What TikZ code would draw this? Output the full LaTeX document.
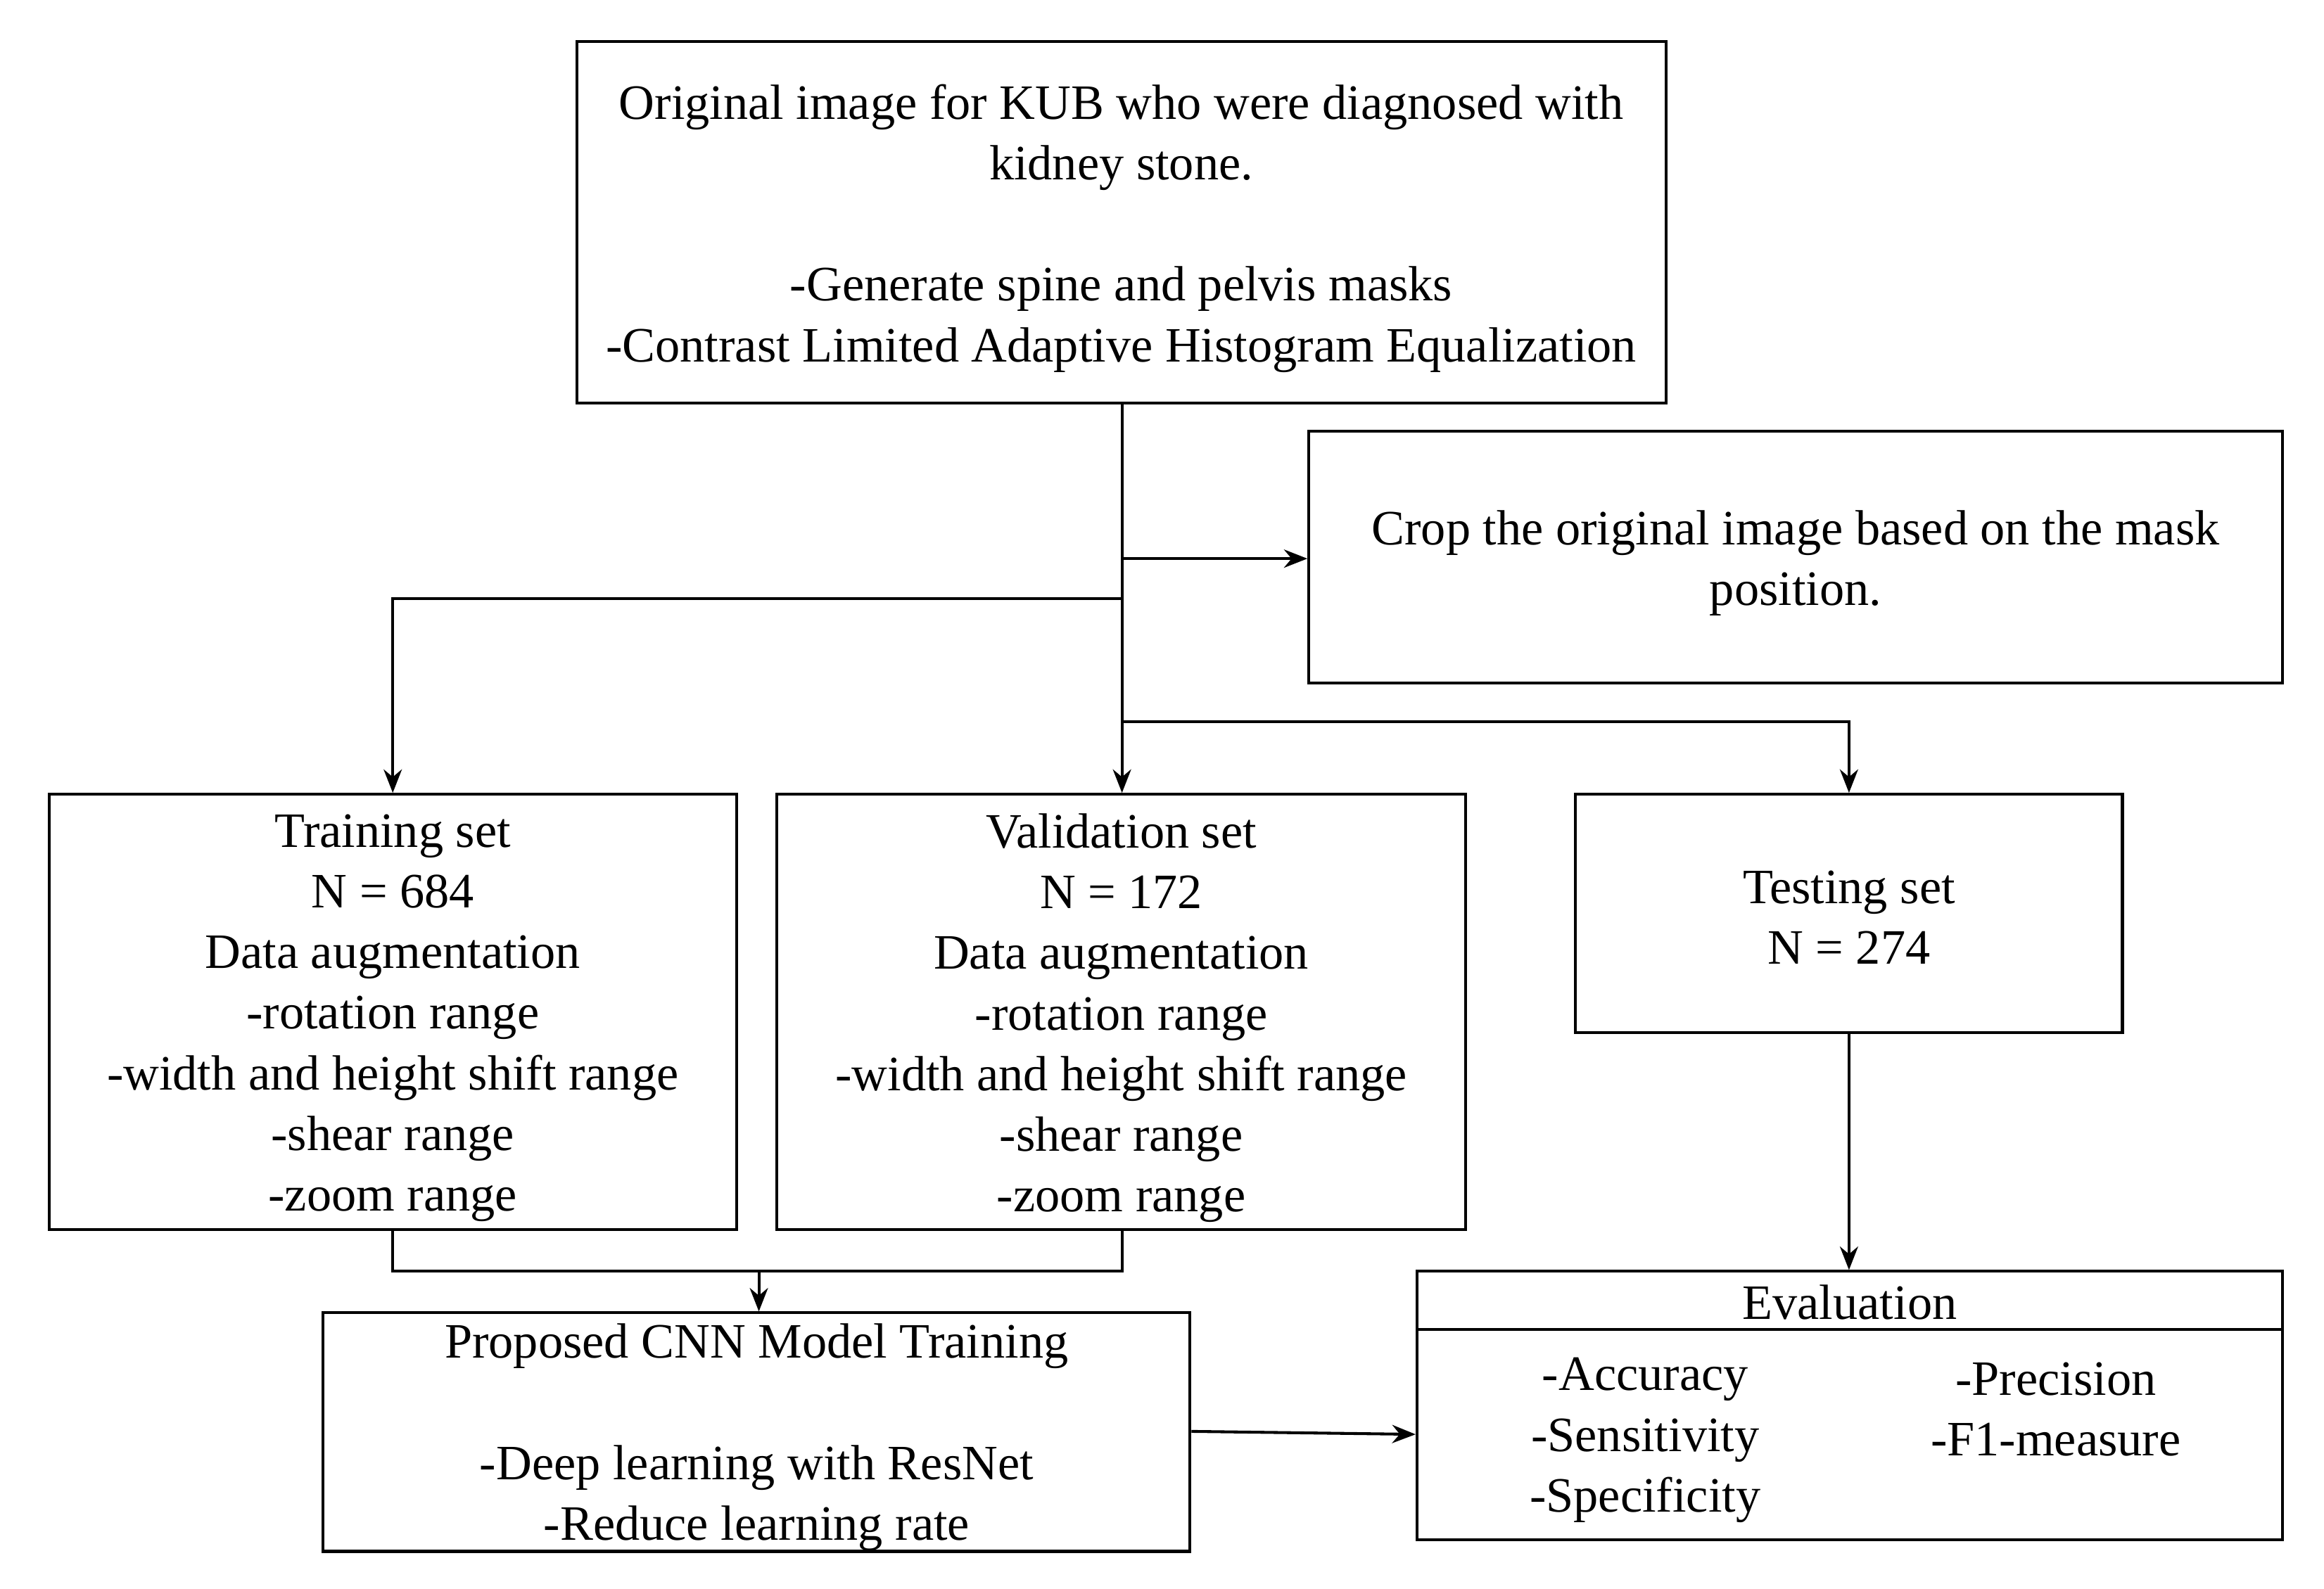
\documentclass[tikz,border=0pt]{standalone}
\usepackage{fontspec}
\setmainfont{Liberation Serif}
\usetikzlibrary{arrows.meta}
\begin{document}
\begin{tikzpicture}[x=0.02cm,y=-0.02cm,
  bx/.style={draw,line width=1.1pt,inner sep=0pt,align=center,font=\fontsize{19}{23.3}\selectfont},
  bo/.style={draw,line width=1.1pt,inner sep=0pt},
  tx/.style={inner sep=0pt,align=center,font=\fontsize{19}{23.3}\selectfont},
  ln/.style={line width=1.1pt},
  ar/.style={line width=1.1pt,-{Stealth[length=9pt,width=7pt]}}]
\useasboundingbox (0,0) rectangle (1568,1072);
\node[bo,minimum width=14.7cm,minimum height=4.88cm] (top) at (756.5,150) {};
\node[tx] (topt) at (756.5,154) {Original image for KUB who were diagnosed with\\kidney stone.\\[23.3pt]-Generate spine and pelvis masks\\-Contrast Limited Adaptive Histogram Equalization};
\node[bo,minimum width=13.14cm,minimum height=3.4cm] (crop) at (1211.5,376) {};
\node[tx] (cropt) at (1211.5,380) {Crop the original image based on the mask\\position.};
\node[bo,minimum width=9.28cm,minimum height=5.88cm] (train) at (265,683) {};
\node[tx] (traint) at (265,687) {Training set\\N = 684\\Data augmentation\\-rotation range\\-width and height shift range\\-shear range\\-zoom range};
\node[bo,minimum width=9.3cm,minimum height=5.88cm] (val) at (756.5,683) {};
\node[tx] (valt) at (756.5,687) {Validation set\\N = 172\\Data augmentation\\-rotation range\\-width and height shift range\\-shear range\\-zoom range};
\node[bo,minimum width=7.38cm,minimum height=3.22cm] (test) at (1247.5,616.5) {};
\node[tx] (testt) at (1247.5,619) {Testing set\\N = 274};
\node[bo,minimum width=11.7cm,minimum height=3.22cm] (cnn) at (510.5,966.5) {};
\node[tx] (cnnt) at (510.5,970) {Proposed CNN Model Training\\[23.3pt]-Deep learning with ResNet\\-Reduce learning rate};
\node[bo,minimum width=11.68cm,minimum height=3.62cm] (eval) at (1248,948.5) {};
\draw[ln] (956,897) -- (1540,897);
\node[tx] (evt) at (1248,879) {Evaluation};
\node[tx] (evl) at (1110,972) {-Accuracy\\-Sensitivity\\-Specificity};
\node[tx] (evr) at (1387,951) {-Precision\\-F1-measure};
\coordinate (j1) at (757,377);
\coordinate (j2) at (757,404);
\coordinate (j3) at (757,487);
\draw[ar] (top.south -| 757,0) -- (val.north -| 757,0);
\draw[ar] (j1) -- (crop.west |- j1);
\draw[ar] (j2) -| (train.north);
\draw[ar] (j3) -| (test.north);
\draw[ar] (test.south) -- (eval.north -| test.south);
\coordinate (m) at (512,858);
\draw[ln] (train.south) |- (m) -| (val.south -| 757,0);
\draw[ar] (m) -- (cnn.north -| m);
\draw[ar] (cnn.east |- 0,966) -- (eval.west |- 0,968);
\end{tikzpicture}
\end{document}
